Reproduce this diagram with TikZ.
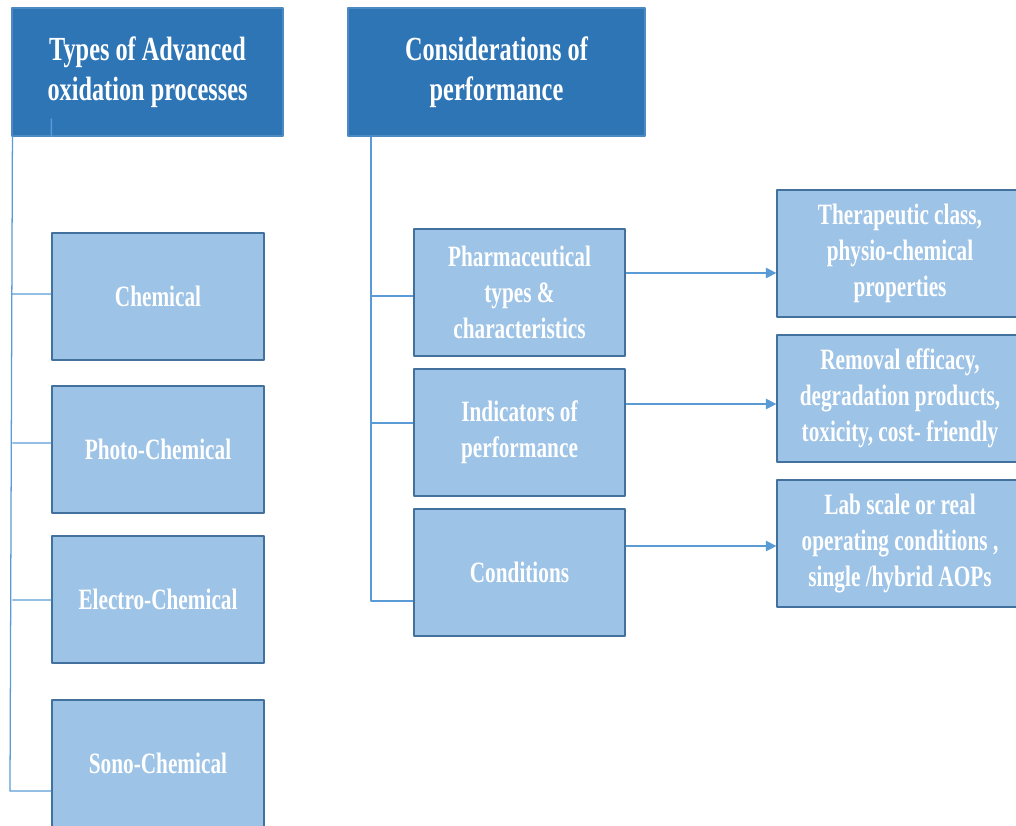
\documentclass[tikz,border=0pt]{standalone}
\usepackage{fontspec}
\newfontfamily\aopfont[FakeStretch=0.72]{Liberation Serif}
\usetikzlibrary{positioning,arrows.meta}
\definecolor{headblue}{HTML}{2E75B6}
\definecolor{boxblue}{HTML}{9DC3E6}
\definecolor{edgeblue}{HTML}{41719C}
\definecolor{lineblue}{HTML}{5B9BD5}
\tikzset{
  headbox/.style={rectangle, fill=headblue, draw=headblue!85!white, line width=0.8pt, text=white,
    minimum height=3.2cm, align=center, font=\aopfont\bfseries\fontsize{24}{28.5}\selectfont},
  itembox/.style={rectangle, fill=boxblue, draw=edgeblue, line width=0.9pt, text=white,
    minimum height=3.175cm, align=center, font=\aopfont\bfseries\fontsize{21}{25.5}\selectfont},
  branch/.style={draw=lineblue, line width=0.9pt}
}
\begin{document}
\begin{tikzpicture}[line join=round, >={Triangle[length=2.6mm,width=2.6mm]}]
                \useasboundingbox (0,0) rectangle (25.4,-20.625);
                \clip (0,0) rectangle (25.4,-20.625);
                % headers
                \node[headbox, minimum width=6.775cm] (types) at (3.6875,-1.8) {Types of Advanced\\oxidation processes};
                \node[headbox, minimum width=7.425cm] (consid) at (12.4125,-1.8) {Considerations of\\performance};
                % types of AOPs
                \node[itembox, minimum width=5.3cm] (chem) at (3.95,-7.4125) {Chemical};
                \node[itembox, minimum width=5.3cm] (photo) at (3.95,-11.2375) {Photo-Chemical};
                \node[itembox, minimum width=5.3cm] (electro) at (3.95,-14.9875) {Electro-Chemical};
                \node[itembox, minimum width=5.3cm] (sono) at (3.95,-19.0875) {Sono-Chemical};
                % considerations
                \node[itembox, minimum width=5.275cm] (pharma) at (12.9875,-7.3125) {Pharmaceutical\\types \&\\characteristics};
                \node[itembox, minimum width=5.275cm] (indic) at (12.9875,-10.8125) {Indicators of\\performance};
                \node[itembox, minimum width=5.275cm] (cond) at (12.9875,-14.3125) {Conditions};
                \node[itembox, minimum width=6.15cm] (thera) at (22.5,-6.3375) {Therapeutic class,\\physio-chemical\\properties};
                \node[itembox, minimum width=6.15cm] (remov) at (22.5,-9.9625) {Removal efficacy,\\degradation products,\\toxicity, cost- friendly};
                \node[itembox, minimum width=6.15cm] (lab) at (22.5,-13.5875) {Lab scale or real\\operating conditions ,\\single /hybrid AOPs};
                \coordinate (ltop) at ([xshift=0.025cm]types.south west);
                \coordinate (lbot) at (0.25,-19.775);
                \coordinate (mtop) at ([xshift=-3.1375cm]consid.south);
                \coordinate (mbot) at (mtop |- 0,-15.025);
                % tree lines
                \draw[branch]
                (ltop) -- (lbot) -- (sono.west |- lbot)
                (ltop |- 0,-7.35) -- (chem.west |- 0,-7.35)
                (ltop |- 0,-11.075) -- (photo.west |- 0,-11.075)
                (ltop |- 0,-15) -- (electro.west |- 0,-15)
                ([yshift=0.45cm]types.south west -| chem.west) -- (types.south west -| chem.west)
                ;
                \draw[branch]
                (mtop) -- (mbot) -- (cond.west |- mbot)
                (mtop |- 0,-7.4) -- (pharma.west |- 0,-7.4)
                (mtop |- 0,-10.575) -- (indic.west |- 0,-10.575)
                ;
                \draw[branch,->]
                ([yshift=0.4875cm]pharma.east) -- ([yshift=0.4875cm]pharma.east -| thera.west);
                \draw[branch,->]
                ([yshift=0.7125cm]indic.east) -- ([yshift=0.7125cm]indic.east -| remov.west);
                \draw[branch,->]
                ([yshift=0.6625cm]cond.east) -- ([yshift=0.6625cm]cond.east -| lab.west);
            \end{tikzpicture}
\end{document}
